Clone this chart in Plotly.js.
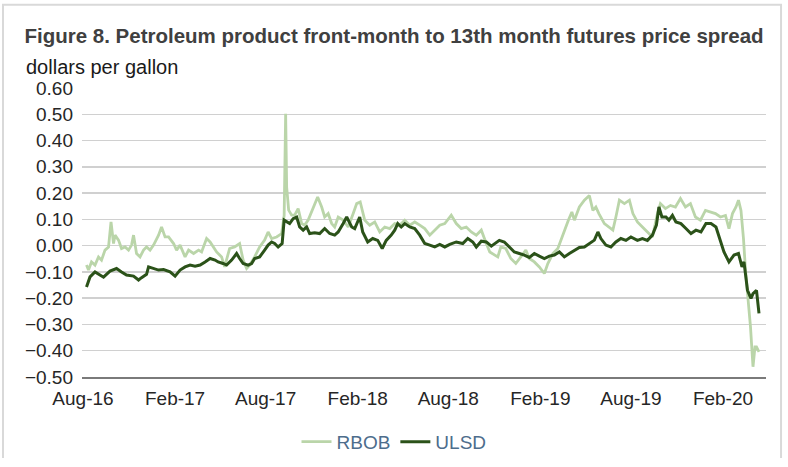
<!DOCTYPE html>
<html>
<head>
<meta charset="utf-8">
<script src="https://cdn.plot.ly/plotly-3.0.1.min.js"></script>
<style>
  html, body { margin: 0; padding: 0; background: #ffffff; }
  #spread-plot { width: 788px; height: 467px; }
</style>
</head>
<body>
<div id="spread-plot"></div>
<script>
// Front-month minus 13th-month futures spread, dollars per gallon
const RBOB_DATES = [
  "2016-08-08","2016-08-12","2016-08-18","2016-08-25","2016-09-01","2016-09-07","2016-09-14","2016-09-21",
  "2016-09-26","2016-10-01","2016-10-04","2016-10-11","2016-10-17","2016-10-24","2016-10-31","2016-11-06",
  "2016-11-10","2016-11-16","2016-11-23","2016-11-30","2016-12-06","2016-12-13","2016-12-20","2016-12-30",
  "2017-01-05","2017-01-12","2017-01-19","2017-01-29","2017-02-04","2017-02-11","2017-02-21","2017-02-28",
  "2017-03-10","2017-03-20","2017-03-26","2017-04-05","2017-04-12","2017-04-19","2017-04-25","2017-05-05",
  "2017-05-11","2017-05-21","2017-05-31","2017-06-10","2017-06-17","2017-06-24","2017-06-30","2017-07-10",
  "2017-07-20","2017-07-30","2017-08-06","2017-08-13","2017-08-23","2017-09-02","2017-09-07","2017-09-10",
  "2017-09-12","2017-09-16","2017-09-22","2017-09-28","2017-10-05","2017-10-12","2017-10-18","2017-10-25",
  "2017-11-04","2017-11-13","2017-11-21","2017-11-27","2017-12-04","2017-12-11","2017-12-17","2017-12-24",
  "2018-01-03","2018-01-13","2018-01-23","2018-01-30","2018-02-06","2018-02-15","2018-02-25","2018-03-07",
  "2018-03-17","2018-03-27","2018-04-06","2018-04-16","2018-04-26","2018-05-06","2018-05-16","2018-05-26",
  "2018-06-05","2018-06-15","2018-06-25","2018-07-05","2018-07-15","2018-07-25","2018-08-07","2018-08-17",
  "2018-08-27","2018-09-06","2018-09-16","2018-09-26","2018-10-06","2018-10-16","2018-10-23","2018-11-02",
  "2018-11-08","2018-11-14","2018-11-24","2018-12-04","2018-12-14","2018-12-24","2019-01-03","2019-01-10",
  "2019-01-20","2019-01-30","2019-02-09","2019-02-16","2019-02-26","2019-03-08","2019-03-14","2019-03-21",
  "2019-03-29","2019-04-05","2019-04-10","2019-04-20","2019-04-30","2019-05-10","2019-05-17","2019-05-23",
  "2019-05-29","2019-06-09","2019-06-19","2019-06-26","2019-07-02","2019-07-09","2019-07-19","2019-07-29",
  "2019-08-05","2019-08-14","2019-08-24","2019-09-03","2019-09-13","2019-09-23","2019-09-29","2019-10-09",
  "2019-10-19","2019-10-29","2019-11-08","2019-11-18","2019-11-28","2019-12-08","2019-12-18","2019-12-28",
  "2020-01-07","2020-01-17","2020-01-27","2020-02-06","2020-02-13","2020-02-20","2020-02-27","2020-03-03",
  "2020-03-08","2020-03-13","2020-03-17","2020-03-23","2020-03-27","2020-04-01","2020-04-05","2020-04-08",
  "2020-04-13"
];
const RBOB_VALUES = [
  -0.074,-0.093,-0.062,-0.074,-0.043,-0.055,-0.017,-0.005,
   0.090, 0.008, 0.040, 0.021,-0.011,-0.005,-0.017, 0.002,
   0.040,-0.030,-0.043,-0.017,-0.005,-0.017, 0.002, 0.040,
   0.071, 0.033, 0.033, 0.008,-0.017, 0.002,-0.043,-0.017,
  -0.030,-0.017,-0.024, 0.027, 0.014,-0.005,-0.024,-0.043,
  -0.081,-0.011,-0.005, 0.008,-0.055,-0.087,-0.074,-0.043,
  -0.005, 0.021, 0.052, 0.027, 0.033, 0.046, 0.115, 0.502,
   0.223, 0.135, 0.116, 0.116, 0.141, 0.084, 0.078, 0.097,
   0.147, 0.185, 0.147, 0.109, 0.122, 0.084, 0.071, 0.109,
   0.097, 0.071, 0.122, 0.160, 0.166, 0.097, 0.078, 0.090,
   0.052, 0.071, 0.065, 0.084, 0.078, 0.097, 0.078, 0.090,
   0.078, 0.065, 0.040, 0.059, 0.078, 0.084, 0.116, 0.084,
   0.065, 0.071, 0.052, 0.040, 0.059, 0.008,-0.024,-0.036,
  -0.043,-0.005,-0.011,-0.049,-0.068,-0.043,-0.017,-0.049,
  -0.062,-0.081,-0.106,-0.068,-0.030,-0.011, 0.021, 0.052,
   0.097, 0.128, 0.097, 0.147, 0.173, 0.191, 0.134, 0.147,
   0.122, 0.084, 0.071, 0.059, 0.109, 0.173, 0.160, 0.173,
   0.122, 0.090, 0.071, 0.052, 0.033, 0.122, 0.160, 0.141,
   0.153, 0.147, 0.179, 0.147, 0.160, 0.109, 0.097, 0.134,
   0.128, 0.122, 0.109, 0.115, 0.065, 0.122, 0.147, 0.173,
   0.134, 0.027,-0.093,-0.211,-0.309,-0.461,-0.385,-0.385,
  -0.404
];

const ULSD_DATES = [
  "2016-08-08","2016-08-15","2016-08-25","2016-09-01","2016-09-11","2016-09-24","2016-10-07","2016-10-17",
  "2016-10-27","2016-11-10","2016-11-20","2016-11-26","2016-12-06","2016-12-10","2016-12-20","2016-12-30",
  "2017-01-09","2017-01-22","2017-02-01","2017-02-11","2017-02-21","2017-03-03","2017-03-13","2017-03-23",
  "2017-04-02","2017-04-12","2017-04-22","2017-04-28","2017-05-08","2017-05-15","2017-05-25","2017-06-04",
  "2017-06-10","2017-06-17","2017-06-27","2017-07-04","2017-07-10","2017-07-20","2017-07-30","2017-08-06",
  "2017-08-13","2017-08-19","2017-08-26","2017-09-03","2017-09-07","2017-09-12","2017-09-18","2017-09-25",
  "2017-10-02","2017-10-08","2017-10-15","2017-10-22","2017-10-28","2017-11-07","2017-11-17","2017-11-27",
  "2017-12-07","2017-12-17","2017-12-24","2018-01-03","2018-01-10","2018-01-20","2018-01-26","2018-02-05",
  "2018-02-11","2018-02-21","2018-03-03","2018-03-13","2018-03-22","2018-03-30","2018-04-09","2018-04-16",
  "2018-04-22","2018-04-29","2018-05-06","2018-05-16","2018-05-26","2018-06-05","2018-06-15","2018-06-25",
  "2018-07-05","2018-07-15","2018-07-25","2018-08-04","2018-08-17","2018-08-30","2018-09-09","2018-09-19",
  "2018-09-26","2018-10-06","2018-10-16","2018-10-26","2018-11-05","2018-11-11","2018-11-21","2018-12-01",
  "2018-12-11","2018-12-21","2018-12-31","2019-01-10","2019-01-20","2019-01-30","2019-02-09","2019-02-19",
  "2019-03-01","2019-03-11","2019-03-21","2019-03-31","2019-04-10","2019-04-20","2019-04-30","2019-05-10",
  "2019-05-20","2019-05-27","2019-06-02","2019-06-12","2019-06-22","2019-07-02","2019-07-12","2019-07-22",
  "2019-08-01","2019-08-14","2019-08-24","2019-09-03","2019-09-13","2019-09-21","2019-09-26","2019-10-02",
  "2019-10-10","2019-10-16","2019-10-23","2019-10-30","2019-11-09","2019-11-19","2019-11-29","2019-12-09",
  "2019-12-19","2019-12-29","2020-01-08","2020-01-18","2020-01-26","2020-02-03","2020-02-13","2020-02-23",
  "2020-03-03","2020-03-10","2020-03-14","2020-03-21","2020-03-28","2020-04-01","2020-04-08","2020-04-13"
];
const ULSD_VALUES = [
  -0.157,-0.119,-0.100,-0.109,-0.120,-0.097,-0.087,-0.100,
  -0.112,-0.116,-0.131,-0.122,-0.109,-0.081,-0.087,-0.093,
  -0.091,-0.100,-0.116,-0.093,-0.081,-0.074,-0.078,-0.074,
  -0.062,-0.049,-0.055,-0.062,-0.068,-0.074,-0.055,-0.030,
  -0.049,-0.068,-0.074,-0.068,-0.049,-0.043,-0.017, 0.002,
   0.014, 0.008,-0.005, 0.008, 0.097, 0.090, 0.084, 0.103,
   0.109, 0.071, 0.059, 0.071, 0.046, 0.049, 0.046, 0.065,
   0.046, 0.040, 0.052, 0.084, 0.109, 0.071, 0.065, 0.109,
   0.052, 0.014, 0.027, 0.020,-0.011, 0.020, 0.040, 0.059,
   0.084, 0.071, 0.084, 0.071, 0.065, 0.040, 0.008, 0.002,
  -0.005, 0.005,-0.005, 0.005, 0.014, 0.008, 0.027, 0.014,
  -0.005, 0.017, 0.014,-0.002, 0.014, 0.020, 0.014,-0.005,
  -0.024,-0.030,-0.036,-0.045,-0.030,-0.040,-0.049,-0.040,
  -0.036,-0.024,-0.043,-0.030,-0.017,-0.007,-0.005, 0.008,
   0.021, 0.052, 0.027, 0.002,-0.005, 0.014, 0.027, 0.020,
   0.033, 0.020, 0.027, 0.020, 0.040, 0.078, 0.147, 0.109,
   0.109, 0.097, 0.115, 0.090, 0.084, 0.065, 0.046, 0.059,
   0.052, 0.084, 0.084, 0.071, 0.027,-0.024,-0.062,-0.036,
  -0.030,-0.081,-0.062,-0.170,-0.201,-0.183,-0.170,-0.258
];

const SERIES_NAMES = ["RBOB", "ULSD"];
const SERIES_COLORS = ["#bad5a9", "#2b5219"];

const FONT = "Liberation Sans, Arial, sans-serif";

function drawChart() {
  const traces = [
    {
      x: RBOB_DATES,
      y: RBOB_VALUES,
      name: SERIES_NAMES[0],
      mode: "lines",
      line: { color: SERIES_COLORS[0], width: 2.8 }
    },
    {
      x: ULSD_DATES,
      y: ULSD_VALUES,
      name: SERIES_NAMES[1],
      mode: "lines",
      line: { color: SERIES_COLORS[1], width: 3 }
    }
  ];

  const layout = {
    width: 788,
    height: 467,
    paper_bgcolor: "#ffffff",
    plot_bgcolor: "#ffffff",
    font: { family: FONT, size: 19, color: "#262626" },
    margin: { l: 82, r: 22, t: 88, b: 90, autoexpand: false },
    title: {
      text: "<b>Figure 8. Petroleum product front-month to 13th month futures price spread</b>",
      font: { family: FONT, size: 20.5, color: "#404040" },
      xref: "container", x: 0.031, xanchor: "left",
      yref: "container", y: 0.924, yanchor: "middle"
    },
    xaxis: {
      type: "date",
      range: ["2016-07-30", "2020-04-27"],
      tick0: "2016-08-01",
      dtick: "M6",
      tickformat: "%b-%y",
      showgrid: false,
      showline: true,
      linecolor: "#7a7a7a",
      linewidth: 1.5,
      ticks: "",
      ticklabelstandoff: 4,
      zeroline: false
    },
    yaxis: {
      range: [-0.5, 0.6],
      dtick: 0.1,
      tickformat: ".2f",
      showgrid: true,
      gridcolor: "#d0d0d0",
      gridwidth: 1.5,
      zeroline: false,
      showline: false,
      ticks: "",
      ticklabelstandoff: 8
    },
    showlegend: true,
    legend: {
      orientation: "h",
      xref: "container", x: 0.5, xanchor: "center",
      yref: "container", y: 0.054, yanchor: "middle",
      font: { family: FONT, size: 19, color: "#4d6d8c" },
      itemwidth: 30
    },
    annotations: [
      {
        text: "dollars per gallon",
        xref: "paper", x: -0.085, xanchor: "left",
        yref: "paper", y: 1.074, yanchor: "middle",
        showarrow: false,
        font: { family: FONT, size: 20, color: "#1a1a1a" }
      }
    ],
    shapes: [
      // light frame around the figure
      {
        type: "path",
        xref: "paper", yref: "paper",
        path: "M -0.1155,-0.28 L -0.1155,1.288 L 1.022,1.288 L 1.022,-0.28",
        line: { color: "#d9d9d9", width: 2 }
      }
    ]
  };

  Plotly.newPlot("spread-plot", traces, layout, { displayModeBar: false, staticPlot: true });
}

document.addEventListener("DOMContentLoaded", drawChart);
</script>
</body>
</html>
